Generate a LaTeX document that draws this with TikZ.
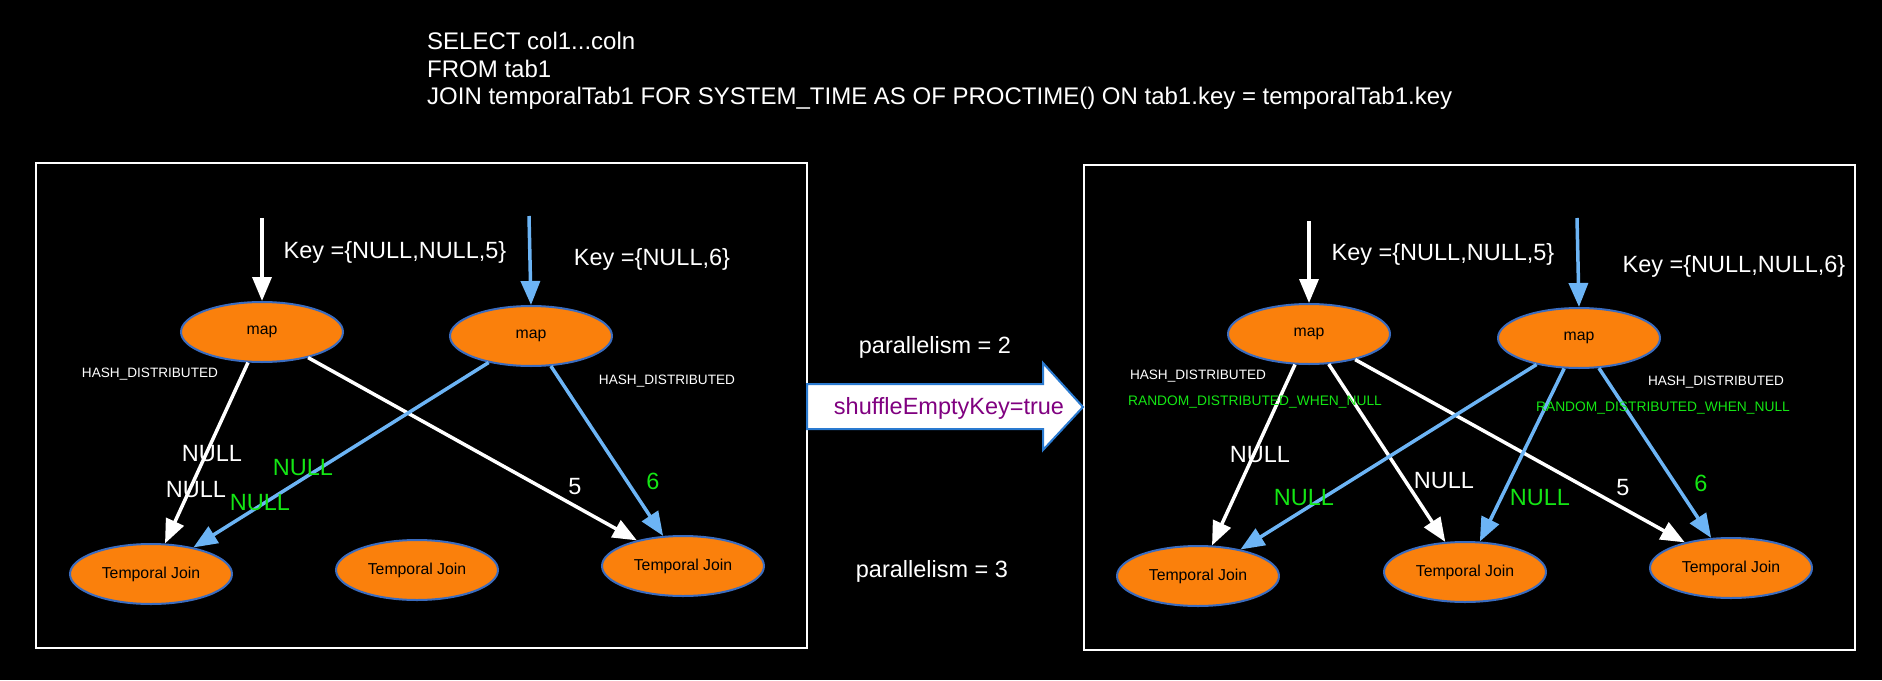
\documentclass[tikz,border=0pt]{standalone}
\usepackage{fontspec}
\setmainfont{Liberation Sans}
\usetikzlibrary{shapes.geometric,arrows.meta}
\definecolor{nodeorange}{RGB}{250,128,12}
\definecolor{nodeborder}{RGB}{58,108,192}
\definecolor{lightblue}{RGB}{108,180,245}
\definecolor{labelgreen}{RGB}{20,230,20}
\definecolor{arrowborder}{RGB}{42,122,208}
\definecolor{keypurple}{RGB}{128,0,128}
\tikzset{
  opnode/.style={ellipse, fill=nodeorange, draw=nodeborder, line width=2pt,
    minimum width=162pt, minimum height=60pt, inner sep=0pt,
    font=\fontsize{15.8}{18}\selectfont, text=black},
  whiteedge/.style={draw=white, line width=3.5pt,
    -{Triangle[length=24pt,width=19pt]}},
  blueedge/.style={draw=lightblue, line width=3.5pt,
    -{Triangle[length=24pt,width=19pt]}},
  biglabel/.style={font=\fontsize{23.5}{26}\selectfont, text=white, inner sep=0pt},
  greenlabel/.style={font=\fontsize{23.5}{26}\selectfont, text=labelgreen, inner sep=0pt},
  smalllabel/.style={font=\fontsize{13.6}{16}\selectfont, text=white, inner sep=0pt},
  smallgreen/.style={font=\fontsize{13.8}{16}\selectfont, text=labelgreen, inner sep=0pt},
  sqlline/.style={font=\fontsize{24}{27}\selectfont, text=white, inner sep=0pt, anchor=base west},
  panel/.style={draw=white, line width=2pt}
}
\begin{document}
\begin{tikzpicture}[x=1pt,y=-1pt]
\useasboundingbox (0,0) rectangle (1882,680);
\fill[black] (0,0) rectangle (1882,680);

% SQL
\node[sqlline] (sql1) at (427,49) {SELECT col1...coln};
\node[sqlline] (sql2) at (427,77) {FROM tab1};
\node[sqlline] (sql3) at (427,104) {JOIN temporalTab1 FOR SYSTEM\_TIME AS OF PROCTIME() ON tab1.key = temporalTab1.key};

% panels
\draw[panel] (36,163) rectangle (807,648);
\draw[panel] (1084,165) rectangle (1855,650);

% ---------- left panel ----------
\node[opnode] (lmap1) at (262,332) {map};
\node[opnode] (lmap2) at (531,336) {map};
\node[opnode] (ltj1) at (151,574) {Temporal Join};
\node[opnode] (ltj2) at (417,570) {Temporal Join};
\node[opnode] (ltj3) at (683,566) {Temporal Join};

\coordinate (lin1) at (262,218);
\coordinate (lin2) at (529,216);
\draw[whiteedge] (lin1) -- (lmap1);
\draw[blueedge] (lin2) -- (lmap2.north);

\draw[whiteedge] (lmap1) -- (ltj1);
\draw[whiteedge] (lmap1) -- (ltj3);
\draw[blueedge] (lmap2) -- (ltj1);
\draw[blueedge] (lmap2) -- (ltj3);

\node[biglabel] (lkey1) at (395,252) {Key =\{NULL,NULL,5\}};
\node[biglabel] (lkey2) at (652,259) {Key =\{NULL,6\}};
\node[smalllabel] (lhash1) at (150,374) {HASH\_DISTRIBUTED};
\node[smalllabel] (lhash2) at (667,381) {HASH\_DISTRIBUTED};
\node[biglabel] (lnull1) at (212,454) {NULL};
\node[biglabel] (lnull2) at (196,490) {NULL};
\node[greenlabel] (lgnull1) at (303,468) {NULL};
\node[greenlabel] (lgnull2) at (260,503) {NULL};
\node[biglabel] (lfive) at (575,487) {5};
\node[greenlabel] (lsix) at (653,481) {6};

% ---------- middle ----------
\node[biglabel] (par2) at (935,347) {parallelism = 2};
\node[biglabel] (par3) at (932,571) {parallelism = 3};
\draw[fill=white, draw=arrowborder, line width=2pt]
  (807,384) -- (1043,384) -- (1043,363) -- (1083,407) -- (1043,450) -- (1043,429) -- (807,429) -- cycle;
\node[font=\fontsize{23.5}{26}\selectfont, text=keypurple, inner sep=0pt] (shuffle) at (949,408) {shuffleEmptyKey=true};

% ---------- right panel ----------
\node[opnode] (rmap1) at (1309,334) {map};
\node[opnode] (rmap2) at (1579,338) {map};
\node[opnode] (rtj1) at (1198,576) {Temporal Join};
\node[opnode] (rtj2) at (1465,572) {Temporal Join};
\node[opnode] (rtj3) at (1731,568) {Temporal Join};

\coordinate (rin1) at (1309,221);
\coordinate (rin2) at (1577,218);
\draw[whiteedge] (rin1) -- (rmap1);
\draw[blueedge] (rin2) -- (rmap2.north);

\draw[whiteedge] (rmap1) -- (rtj1);
\draw[whiteedge] (rmap1) -- (rtj2);
\draw[whiteedge] (rmap1) -- (rtj3);
\draw[blueedge] (rmap2) -- (rtj1);
\draw[blueedge] (rmap2) -- (rtj2);
\draw[blueedge] (rmap2) -- (rtj3);

\node[biglabel] (rkey1) at (1443,254) {Key =\{NULL,NULL,5\}};
\node[biglabel] (rkey2) at (1734,266) {Key =\{NULL,NULL,6\}};
\node[smalllabel] (rhash1) at (1198,376) {HASH\_DISTRIBUTED};
\node[smallgreen] (rrand1) at (1255,402) {RANDOM\_DISTRIBUTED\_WHEN\_NULL};
\node[smalllabel] (rhash2) at (1716,382) {HASH\_DISTRIBUTED};
\node[smallgreen] (rrand2) at (1663,408) {RANDOM\_DISTRIBUTED\_WHEN\_NULL};
\node[biglabel] (rnull1) at (1260,455) {NULL};
\node[biglabel] (rnull2) at (1444,481) {NULL};
\node[greenlabel] (rgnull1) at (1304,498) {NULL};
\node[greenlabel] (rgnull2) at (1540,498) {NULL};
\node[biglabel] (rfive) at (1623,488) {5};
\node[greenlabel] (rsix) at (1701,483) {6};
\end{tikzpicture}
\end{document}
